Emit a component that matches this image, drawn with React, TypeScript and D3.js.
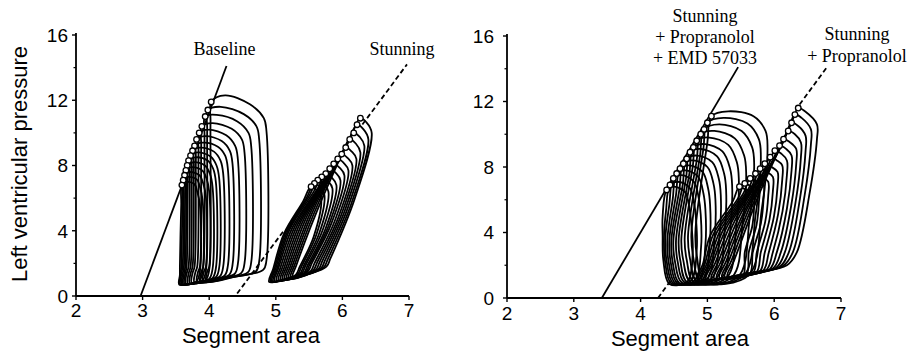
import React from 'react';
import * as d3 from 'd3';

type Pt = [number, number];

// ---------------- axes ----------------
const xTicks = [2, 3, 4, 5, 6, 7];
const yTicks = [0, 4, 8, 12, 16];
const yMinorTicks = [2, 6, 10, 14];

// ---------------- Baseline loops (left panel) ----------------
const baselineEsArea = [4.03, 3.98, 3.94, 3.89, 3.85, 3.81, 3.78, 3.75, 3.72, 3.69, 3.67, 3.65, 3.63, 3.61, 3.59];
const baselineEsPressure = [11.9, 11.4, 11.0, 10.4, 10.0, 9.6, 9.2, 8.9, 8.6, 8.3, 8.0, 7.7, 7.4, 7.1, 6.8];
const baselineRightArea = [4.86, 4.75, 4.63, 4.53, 4.43, 4.35, 4.28, 4.21, 4.15, 4.10, 4.05, 4.00, 3.95, 3.90, 3.86];
const baselinePeakPressure = [12.3, 11.6, 11.1, 10.6, 10.2, 9.8, 9.4, 9.1, 8.8, 8.5, 8.2, 7.9, 7.6, 7.3, 7.0];
const baselineCornerPressure = [10.9, 10.4, 10.0, 9.6, 9.2, 8.9, 8.6, 8.3, 8.0, 7.8, 7.5, 7.2, 6.9, 6.7, 6.4];
const baselineEdPressure = [1.6, 1.5, 1.45, 1.4, 1.35, 1.3, 1.25, 1.2, 1.15, 1.1, 1.05, 1.0, 0.95, 0.9, 0.9];
const baselineFootArea = [3.96, 3.91, 3.87, 3.82, 3.78, 3.74, 3.71, 3.68, 3.65, 3.63, 3.61, 3.59, 3.57, 3.56, 3.55];
const baselineFootPressure = [0.9, 0.88, 0.86, 0.84, 0.82, 0.8, 0.78, 0.76, 0.75, 0.74, 0.73, 0.72, 0.71, 0.7, 0.7];

// ---------------- Stunning loops (left panel) ----------------
const stunEsArea = [6.27, 6.22, 6.17, 6.11, 6.05, 5.99, 5.93, 5.87, 5.81, 5.75, 5.69, 5.63, 5.58, 5.53];
const stunEsPressure = [10.9, 10.5, 10.0, 9.6, 9.1, 8.7, 8.4, 8.1, 7.8, 7.5, 7.3, 7.1, 6.9, 6.7];
const stunRightArea = [6.44, 6.39, 6.33, 6.27, 6.21, 6.15, 6.09, 6.03, 5.97, 5.91, 5.85, 5.79, 5.73, 5.68];
const stunRightPressure = [10.0, 9.6, 9.2, 8.8, 8.4, 8.0, 7.7, 7.4, 7.1, 6.8, 6.6, 6.4, 6.2, 6.0];
const stunEdArea = [5.76, 5.72, 5.68, 5.64, 5.60, 5.56, 5.52, 5.48, 5.45, 5.42, 5.39, 5.36, 5.33, 5.30];
const stunEdPressure = [1.8, 1.75, 1.7, 1.65, 1.6, 1.55, 1.5, 1.5, 1.45, 1.4, 1.4, 1.35, 1.35, 1.3];
const stunFootArea = [5.25, 5.22, 5.19, 5.16, 5.13, 5.10, 5.07, 5.04, 5.01, 4.98, 4.96, 4.94, 4.92, 4.90];
const stunFootPressure = [1.1, 1.08, 1.06, 1.04, 1.02, 1.0, 0.98, 0.96, 0.94, 0.92, 0.9, 0.9, 0.88, 0.86];
const stunKneeArea = [5.72, 5.66, 5.60, 5.54, 5.48, 5.43, 5.38, 5.33, 5.29, 5.25, 5.21, 5.18, 5.15, 5.12];
const stunKneePressure = [6.2, 5.9, 5.6, 5.3, 5.0, 4.8, 4.6, 4.4, 4.3, 4.2, 4.1, 4.0, 3.9, 3.8];

// ---------------- Stunning + Propranolol + EMD 57033 (right panel) ----------------
const emdEsArea = [5.06, 5.00, 4.95, 4.90, 4.84, 4.79, 4.74, 4.69, 4.64, 4.59, 4.54, 4.49, 4.44, 4.39];
const emdEsPressure = [11.1, 10.7, 10.3, 10.0, 9.6, 9.2, 8.9, 8.5, 8.2, 7.9, 7.6, 7.3, 6.9, 6.6];
const emdRightArea = [5.90, 5.80, 5.70, 5.58, 5.47, 5.37, 5.28, 5.20, 5.12, 5.04, 4.97, 4.90, 4.83, 4.76];
const emdPeakPressure = [11.4, 11.0, 10.6, 10.2, 9.8, 9.4, 9.1, 8.7, 8.4, 8.1, 7.8, 7.5, 7.1, 6.8];
const emdCornerPressure = [10.2, 9.7, 9.2, 8.7, 8.3, 7.9, 7.6, 7.3, 7.0, 6.7, 6.4, 6.1, 5.8, 5.5];
const emdEdArea = [5.62, 5.54, 5.46, 5.37, 5.29, 5.21, 5.13, 5.06, 4.99, 4.93, 4.87, 4.81, 4.75, 4.70];
const emdEdPressure = [1.4, 1.35, 1.3, 1.28, 1.25, 1.22, 1.2, 1.18, 1.15, 1.12, 1.1, 1.08, 1.05, 1.0];
const emdFootArea = [4.95, 4.90, 4.85, 4.80, 4.75, 4.70, 4.66, 4.62, 4.58, 4.55, 4.52, 4.49, 4.46, 4.43];
const emdFootPressure = [1.0, 1.0, 0.98, 0.97, 0.96, 0.95, 0.94, 0.93, 0.92, 0.91, 0.9, 0.9, 0.88, 0.86];
const emdBulgeArea = [4.82, 4.76, 4.71, 4.66, 4.61, 4.57, 4.53, 4.49, 4.46, 4.43, 4.40, 4.37, 4.35, 4.33];
const emdBulgePressure = [4.0, 3.9, 3.8, 3.7, 3.6, 3.6, 3.5, 3.5, 3.5, 3.5, 3.5, 3.6, 3.7, 3.8];

// ---------------- Stunning + Propranolol (right panel) ----------------
const propEsArea = [6.36, 6.31, 6.26, 6.21, 6.14, 6.08, 6.01, 5.94, 5.86, 5.79, 5.72, 5.64, 5.56, 5.48];
const propEsPressure = [11.6, 11.2, 10.7, 10.2, 9.7, 9.3, 9.0, 8.6, 8.2, 7.9, 7.6, 7.3, 7.0, 6.8];
const propRightArea = [6.64, 6.55, 6.47, 6.40, 6.33, 6.26, 6.19, 6.12, 6.05, 5.98, 5.91, 5.84, 5.77, 5.70];
const propRightPressure = [10.0, 9.7, 9.3, 8.9, 8.5, 8.1, 7.8, 7.5, 7.1, 6.8, 6.5, 6.3, 6.1, 5.9];
const propLowArea = [6.34, 6.28, 6.22, 6.16, 6.10, 6.04, 5.98, 5.92, 5.86, 5.80, 5.74, 5.68, 5.62, 5.56];
const propEdArea = [6.19, 6.13, 6.08, 6.03, 5.98, 5.93, 5.88, 5.83, 5.78, 5.73, 5.68, 5.63, 5.58, 5.53];
const propEdPressure = [2.0, 1.95, 1.9, 1.85, 1.8, 1.75, 1.7, 1.65, 1.6, 1.55, 1.5, 1.45, 1.4, 1.35];
const propFootArea = [5.30, 5.26, 5.22, 5.18, 5.14, 5.10, 5.06, 5.02, 4.98, 4.95, 4.92, 4.89, 4.86, 4.83];
const propFootPressure = [1.3, 1.28, 1.26, 1.24, 1.22, 1.2, 1.18, 1.16, 1.14, 1.12, 1.1, 1.08, 1.06, 1.04];
const propKneeArea = [5.78, 5.72, 5.66, 5.60, 5.54, 5.48, 5.42, 5.36, 5.30, 5.24, 5.19, 5.14, 5.09, 5.04];
const propKneePressure = [6.4, 6.1, 5.8, 5.5, 5.2, 5.0, 4.8, 4.6, 4.4, 4.2, 4.1, 4.0, 3.9, 3.8];

// ---------------- end-systolic pressure-area relations ----------------
const baselineLineArea = [2.97, 4.26];
const baselineLinePressure = [0, 14.1];
const stunLineArea = [4.42, 6.97];
const stunLinePressure = [0.15, 14.2];
const stunLineShown = [[4.42, 5.12], [6.30, 6.97]];
const emdLineArea = [3.42, 5.46];
const emdLinePressure = [0, 14.1];
const propLineArea = [4.26, 6.79];
const propLinePressure = [0, 14.1];
const propLineShown = [[4.26, 4.45], [6.38, 6.79]];

// ---------------- loop outlines from the read key points ----------------
function baselineLoop(i: number): Pt[] {
  const a = baselineEsArea[i], p = baselineEsPressure[i], R = baselineRightArea[i];
  const T = baselinePeakPressure[i], C = baselineCornerPressure[i], E = baselineEdPressure[i];
  const F = baselineFootArea[i], FP = baselineFootPressure[i];
  return [
    [a, p],
    [a + 0.25 * (R - a), T],
    [a + 0.7 * (R - a), (T + C) / 2 + 0.15],
    [R - 0.04, C],
    [R, C - 0.8],
    [R, E + 0.6],
    [R - 0.05, E],
    [(F + R) / 2, (E + FP) / 2 - 0.05],
    [F, FP],
    [F + 0.01, FP + 0.6],
    [a - 0.03, 1.8],
    [a - 0.01, p - 1.2],
  ];
}

function stunLoop(i: number): Pt[] {
  const a = stunEsArea[i], p = stunEsPressure[i];
  const rA = stunRightArea[i], rP = stunRightPressure[i];
  const eA = stunEdArea[i], eP = stunEdPressure[i];
  const fA = stunFootArea[i], fP = stunFootPressure[i];
  const kA = stunKneeArea[i], kP = stunKneePressure[i];
  return [
    [a, p],
    [a + 0.09, p - 0.25],
    [rA, rP],
    [(rA + eA) / 2 + 0.08, (rP + eP) / 2],
    [eA + 0.06, eP + 0.5],
    [eA, eP],
    [(eA + fA) / 2, (eP + fP) / 2 - 0.1],
    [fA, fP],
    [fA + 0.06, fP + 0.8],
    [kA, kP],
    [a - 0.12, p - 0.9],
  ];
}

function emdLoop(i: number): Pt[] {
  const a = emdEsArea[i], p = emdEsPressure[i], R = emdRightArea[i];
  const T = emdPeakPressure[i], C = emdCornerPressure[i];
  const eA = emdEdArea[i], eP = emdEdPressure[i];
  const fA = emdFootArea[i], fP = emdFootPressure[i];
  const bA = emdBulgeArea[i], bP = emdBulgePressure[i];
  return [
    [a, p],
    [a + 0.3 * (R - a), T],
    [a + 0.75 * (R - a), (T + C) / 2 + 0.3],
    [R - 0.03, C],
    [R, C - 1.0],
    [(R + eA) / 2 + 0.05, (C - 1 + eP) / 2],
    [eA, eP],
    [fA, fP],
    [(fA + bA) / 2 - 0.04, (fP + bP) / 2],
    [bA, bP],
    [a - 0.06, p - 1.6],
  ];
}

function propLoop(i: number): Pt[] {
  const a = propEsArea[i], p = propEsPressure[i];
  const rA = propRightArea[i], rP = propRightPressure[i];
  const lA = propLowArea[i];
  const eA = propEdArea[i], eP = propEdPressure[i];
  const fA = propFootArea[i], fP = propFootPressure[i];
  const kA = propKneeArea[i], kP = propKneePressure[i];
  return [
    [a, p],
    [a + 0.1, p - 0.2],
    [rA, rP + 0.6],
    [rA, rP - 0.3],
    [(rA + lA) / 2 + 0.04, (rP + 2.8) / 2],
    [lA, 2.8],
    [eA, eP],
    [(eA + fA) / 2, (eP + fP) / 2 - 0.05],
    [fA, fP],
    [fA + 0.1, fP + 1.0],
    [kA, kP],
    [a - 0.1, p - 0.9],
  ];
}

const SANS = "'Liberation Sans', Arial, sans-serif";
const SERIF = "'Liberation Serif', 'Times New Roman', serif";

type Scale = d3.ScaleLinear<number, number>;

function Axes({ x, y, labelRight, xLabelY, titleX, titleY }: { x: Scale; y: Scale; labelRight: number; xLabelY: number; titleX: number; titleY: number }) {
  const [x0, x1] = x.range();
  const y0 = y(0);
  const yTop = y(16);
  return (
    <g>
      <line x1={x0} y1={y0} x2={x0} y2={yTop - 2} stroke="#000" strokeWidth={1.8} />
      <line x1={x0} y1={y0} x2={x1} y2={y0} stroke="#000" strokeWidth={1.8} />
      {yTicks.map(t => (
        <line key={'yt' + t} x1={x0 - 4} x2={x0} y1={y(t)} y2={y(t)} stroke="#000" strokeWidth={1.4} />
      ))}
      {yMinorTicks.map(t => (
        <line key={'ym' + t} x1={x0 - 2.5} x2={x0} y1={y(t)} y2={y(t)} stroke="#000" strokeWidth={1.2} />
      ))}
      {xTicks.map(t => (
        <line key={'xt' + t} x1={x(t)} x2={x(t)} y1={y0} y2={y0 + 4} stroke="#000" strokeWidth={1.4} />
      ))}
      {yTicks.map(t => (
        <text key={'yl' + t} x={labelRight} y={y(t)} dy="0.36em" textAnchor="end" fontFamily={SANS} fontSize={19}>
          {t}
        </text>
      ))}
      {xTicks.map(t => (
        <text key={'xl' + t} x={x(t)} y={xLabelY} textAnchor="middle" fontFamily={SANS} fontSize={19}>
          {t}
        </text>
      ))}
      <text x={titleX} y={titleY} textAnchor="middle" fontFamily={SANS} fontSize={22}>
        Segment area
      </text>
    </g>
  );
}

function Loops({ x, y, loops }: { x: Scale; y: Scale; loops: Pt[][] }) {
  const line = d3
    .line<Pt>()
    .x(d => x(d[0]))
    .y(d => y(d[1]))
    .curve(d3.curveCatmullRomClosed.alpha(0.5));
  return (
    <g fill="none" stroke="#000" strokeWidth={1.8} strokeLinejoin="round">
      {loops.map((l, i) => (
        <path key={i} d={line(l) || ''} />
      ))}
    </g>
  );
}

function Circles({ x, y, areas, pressures }: { x: Scale; y: Scale; areas: number[]; pressures: number[] }) {
  return (
    <g fill="#fff" stroke="#000" strokeWidth={1.3}>
      {areas.map((a, i) => (
        <circle key={i} cx={x(a)} cy={y(pressures[i])} r={2.8} />
      ))}
    </g>
  );
}

function RelLine({ x, y, areas, pressures, shown, dashed }: { x: Scale; y: Scale; areas: number[]; pressures: number[]; shown?: number[][]; dashed?: boolean }) {
  const at = (a: number) => pressures[0] + ((a - areas[0]) / (areas[1] - areas[0])) * (pressures[1] - pressures[0]);
  const segs = shown ?? [areas];
  return (
    <g stroke="#000" strokeWidth={1.8} strokeDasharray={dashed ? '5,3' : undefined}>
      {segs.map((s, i) => (
        <line key={i} x1={x(s[0])} y1={y(at(s[0]))} x2={x(s[1])} y2={y(at(s[1]))} />
      ))}
    </g>
  );
}

export default function App() {
  const xL = d3.scaleLinear().domain([2, 7]).range([76, 409]);
  const yL = d3.scaleLinear().domain([0, 16]).range([296, 35]);
  const xR = d3.scaleLinear().domain([2, 7]).range([507, 841]);
  const yR = d3.scaleLinear().domain([0, 16]).range([298, 36]);

  const baselineLoops = baselineEsArea.map((_, i) => baselineLoop(i));
  const stunLoops = stunEsArea.map((_, i) => stunLoop(i));
  const emdLoops = emdEsArea.map((_, i) => emdLoop(i));
  const propLoops = propEsArea.map((_, i) => propLoop(i));

  return (
    <div style={{ position: 'absolute', left: 0, top: 0 }}>
      <svg width={910} height={352} viewBox="0 0 910 352" style={{ display: 'block', background: '#fff' }}>
        <rect x={0} y={0} width={910} height={352} fill="#fff" />
        {/* left panel */}
        <Axes x={xL} y={yL} labelRight={68} xLabelY={317} titleX={251} titleY={343} />
        <text transform="translate(26.5,164) rotate(-90)" textAnchor="middle" fontFamily={SANS} fontSize={22}>
          Left ventricular pressure
        </text>
        <Loops x={xL} y={yL} loops={baselineLoops} />
        <Loops x={xL} y={yL} loops={stunLoops} />
        <RelLine x={xL} y={yL} areas={baselineLineArea} pressures={baselineLinePressure} />
        <RelLine x={xL} y={yL} areas={stunLineArea} pressures={stunLinePressure} shown={stunLineShown} dashed />
        <Circles x={xL} y={yL} areas={baselineEsArea} pressures={baselineEsPressure} />
        <Circles x={xL} y={yL} areas={stunEsArea} pressures={stunEsPressure} />
        <text x={224.5} y={55} textAnchor="middle" fontFamily={SERIF} fontSize={18}>Baseline</text>
        <text x={402} y={55} textAnchor="middle" fontFamily={SERIF} fontSize={18}>Stunning</text>

        {/* right panel */}
        <Axes x={xR} y={yR} labelRight={494} xLabelY={320} titleX={680} titleY={346} />
        <Loops x={xR} y={yR} loops={emdLoops} />
        <Loops x={xR} y={yR} loops={propLoops} />
        <RelLine x={xR} y={yR} areas={emdLineArea} pressures={emdLinePressure} />
        <RelLine x={xR} y={yR} areas={propLineArea} pressures={propLinePressure} shown={propLineShown} dashed />
        <Circles x={xR} y={yR} areas={emdEsArea} pressures={emdEsPressure} />
        <Circles x={xR} y={yR} areas={propEsArea} pressures={propEsPressure} />
        <text x={705} y={21.5} textAnchor="middle" fontFamily={SERIF} fontSize={18}>Stunning</text>
        <text x={705} y={43} textAnchor="middle" fontFamily={SERIF} fontSize={18}>+ Propranolol</text>
        <text x={705} y={64} textAnchor="middle" fontFamily={SERIF} fontSize={18}>+ EMD 57033</text>
        <text x={857} y={40} textAnchor="middle" fontFamily={SERIF} fontSize={18}>Stunning</text>
        <text x={857} y={61.5} textAnchor="middle" fontFamily={SERIF} fontSize={18}>+ Propranolol</text>
      </svg>
    </div>
  );
}
